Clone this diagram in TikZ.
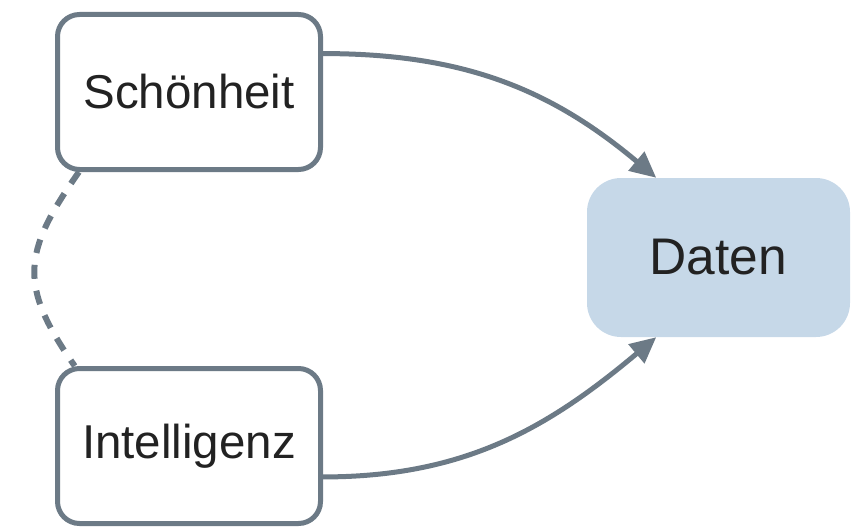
\documentclass[tikz,border=0pt]{standalone}
\usepackage{fontspec}
\setmainfont{Liberation Sans}
\usetikzlibrary{arrows.meta,calc,positioning}
\definecolor{Edge}{HTML}{6C7A86}
\definecolor{Ink}{HTML}{222222}
\definecolor{DataBlue}{HTML}{C6D8E8}

\begin{document}
\begin{tikzpicture}[
      x=1pt,y=-1pt,
      node distance=194pt,
      factor/.style={draw=Edge,line width=5pt,fill=white,rounded corners=22pt,
        minimum width=263pt,minimum height=155pt,text=Ink,
        font=\fontsize{47.5pt}{57pt}\selectfont},
      result/.style={fill=DataBlue,rounded corners=34pt,minimum width=263pt,
        minimum height=159pt,text=Ink,font=\fontsize{51.5pt}{62pt}\selectfont},
      arrow/.style={-{Triangle[length=26pt,width=24pt]},line width=5pt,color=Edge},
      link/.style={line width=6pt,color=Edge,dash pattern=on 14pt off 12pt}
    ]
      \useasboundingbox (0,0) rectangle (854,527);
      \node[factor] (schoen) at (189,92) {Schönheit};
      \node[factor,below=of schoen] (intel) {Intelligenz};
      \node[result] (daten) at (718.5,257.5) {Daten};
      \draw[arrow] (schoen.16.5) to[out=0,in=140] (daten.128.6);
      \draw[arrow] (intel.347.4) to[out=0,in=220] (daten.232.6);
      \draw[link] (schoen.216.3) to[out=235,in=125,looseness=1.3] (intel.145.1);
    \end{tikzpicture}
\end{document}
